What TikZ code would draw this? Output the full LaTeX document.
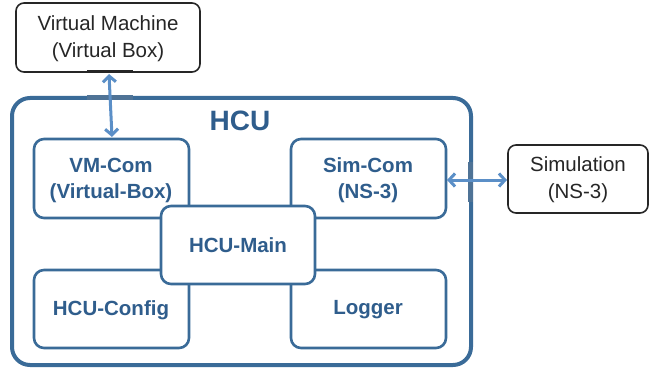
\documentclass[tikz,border=0pt]{standalone}
\usepackage{fontspec}
\setmainfont{Liberation Sans}
\usetikzlibrary{arrows.meta}
\definecolor{hcublue}{HTML}{3A6B98}
\definecolor{txtblue}{HTML}{2F5D8C}
\definecolor{arrblue}{HTML}{5B8FC7}
\definecolor{portblue}{HTML}{4F7396}
\begin{document}
\begin{tikzpicture}[x=1pt,y=-1pt,
  extbox/.style={draw=black!85, line width=1.6pt, rounded corners=8pt, fill=white},
  modbox/.style={draw=hcublue, line width=2.6pt, rounded corners=10pt, fill=white},
  modtext/.style={text=txtblue, font=\fontsize{20.5}{26}\selectfont\bfseries, align=center},
  exttext/.style={text=black!85, font=\fontsize{20.5}{27}\selectfont, align=center},
  link/.style={draw=arrblue, line width=3pt, {Straight Barb[length=6pt,width=13pt]}-{Straight Barb[length=6pt,width=13pt]}},
  port/.style={line width=5pt}]
\useasboundingbox (0,0) rectangle (657,369);
% external boxes
\draw[extbox] (16,3) rectangle (200,72);
\node[exttext] (vm) at (108,38.5) {Virtual Machine\\(Virtual Box)};
\coordinate (vmb) at (109,74);
\draw[extbox] (508,145) rectangle (648,213);
\node[exttext] (sim) at (578,180) {Simulation\\(NS-3)};
\coordinate (siml) at (507,180);
% HCU
\draw[draw=hcublue, line width=4pt, rounded corners=18pt] (12,98) rectangle (471,365);
\node[text=txtblue, font=\fontsize{28}{32}\selectfont\bfseries] (hcu) at (240,121) {HCU};
% modules
\draw[modbox] (34,139) rectangle (189,218);
\node[modtext] (vmcom) at (111,180) {VM-Com\\(Virtual-Box)};
\coordinate (vmcomt) at (112,137);
\draw[modbox] (291,139) rectangle (446,218);
\node[modtext] (simcom) at (368,180) {Sim-Com\\(NS-3)};
\coordinate (simcomr) at (447,180);
\draw[modbox] (34,270) rectangle (189,348);
\node[modtext] (cfg) at (111,310) {HCU-Config};
\draw[modbox] (291,270) rectangle (446,348);
\node[modtext] (log) at (368,310) {Logger};
\draw[modbox] (161,206) rectangle (315,284);
\node[modtext] (main) at (238,245) {HCU-Main};
% ports
\draw[line width=3pt, black!85] (87,72) -- (133,72);
\draw[port, portblue] (87,98) -- (133,98);
\draw[port, portblue] (470,162) -- (470,202);
% connectors
\draw[link] (vmb) -- (vmcomt);
\draw[link] (simcomr) -- (siml);
\end{tikzpicture}
\end{document}
